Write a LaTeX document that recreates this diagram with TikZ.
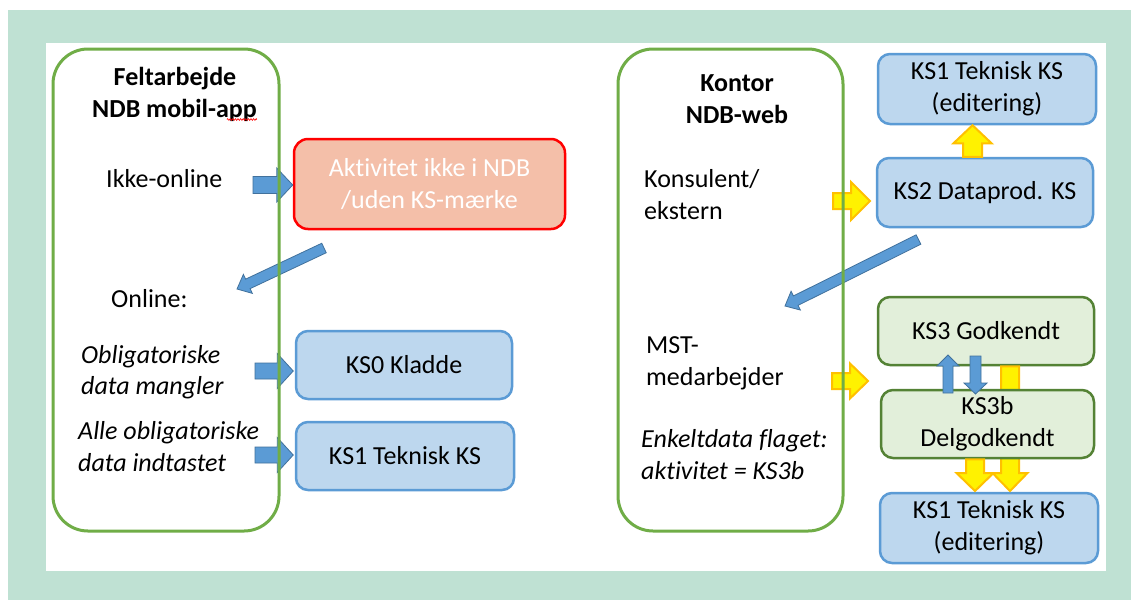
\documentclass[tikz,border=0pt]{standalone}
\usepackage{fontspec}
\setmainfont[Ligatures={NoCommon}]{Carlito}
\usetikzlibrary{calc,decorations.pathmorphing}
\definecolor{mint}{HTML}{BFE1D3}
\definecolor{frgreen}{HTML}{70AD47}
\definecolor{fillblue}{HTML}{BDD7EE}
\definecolor{lineblue}{HTML}{5B9BD5}
\definecolor{arrblue}{HTML}{5B9BD5}
\definecolor{arrblueline}{HTML}{41719C}
\definecolor{dkgreen}{HTML}{548235}
\definecolor{fillgreen}{HTML}{E2EFDA}
\definecolor{salmon}{HTML}{F4BFA9}
\definecolor{yelline}{HTML}{FFC000}
\newcommand\fsz{\fontsize{26}{31.7}\selectfont}
% #1 style, #2 start, #3 tip, #4 shaft half width, #5 head half width, #6 head length
\newcommand\blockarr[6]{%
  \coordinate (bah) at ($(#3)!#6!(#2)$);
  \draw[#1] ($(#2)!#4!90:(#3)$) -- ($(bah)!#4!90:(#3)$) -- ($(bah)!#5!90:(#3)$) -- (#3)
    -- ($(bah)!#5!-90:(#3)$) -- ($(bah)!#4!-90:(#3)$) -- ($(#2)!#4!-90:(#3)$) -- cycle;}
\begin{document}
\begin{tikzpicture}[x=1pt,y=-1pt,
  every node/.style={font=\fsz, inner sep=0pt},
  lane/.style={draw=frgreen, line width=3pt, rounded corners=35pt},
  bluebox/.style={draw=lineblue, fill=fillblue, line width=2.5pt, rounded corners=12pt, align=center},
  greenbox/.style={draw=dkgreen, fill=fillgreen, line width=2.5pt, rounded corners=12pt, align=center},
  redbox/.style={draw=red, fill=salmon, line width=2.5pt, rounded corners=14pt, align=center, text=white},
  lbl/.style={anchor=base west},
  ilbl/.style={anchor=base west, font=\fsz\itshape},
  ttl/.style={anchor=base, font=\fsz\bfseries},
  bluearr/.style={fill=arrblue, draw=arrblueline, line width=0.8pt},
  yelarr/.style={fill=yellow, draw=yelline, line width=2pt},
]
\useasboundingbox (0,0) rectangle (1131,600);
\fill[white] (0,0) rectangle (1131,600);
\fill[mint] (8,10) rectangle (1131,600);
\fill[white] (46,43) rectangle (1106,571);

% boxes
\node[redbox, minimum width=271pt, minimum height=90pt] (red) at (429.5,184) {Aktivitet ikke i NDB\\/uden KS-mærke};
\node[bluebox, minimum width=216pt, minimum height=68pt] (ks0) at (404,365) {KS0 Kladde};
\node[bluebox, minimum width=218pt, minimum height=68pt] (ks1) at (405,456) {KS1 Teknisk KS};
\node[bluebox, minimum width=218pt, minimum height=70pt] (ks1a) at (987,89) {KS1 Teknisk KS\\(editering)};
\node[bluebox, minimum width=216pt, minimum height=69pt] (ks2) at (985,192.5) {KS2 Dataprod. KS};
\node[greenbox, minimum width=216pt, minimum height=68pt] (ks3) at (986,331) {KS3 Godkendt};
\node[bluebox, minimum width=218pt, minimum height=70pt] (ks1b) at (989,528) {KS1 Teknisk KS\\(editering)};

% long yellow arrow behind KS3b
\coordinate (ylx) at (1010,0);
\coordinate (yls) at (ks3.south -| ylx);
\coordinate (yle) at (1010,491);
\blockarr{yelarr}{yls}{yle}{9pt}{17.5pt}{18pt}

\node[greenbox, minimum width=213pt, minimum height=68pt] (ks3b) at (987.5,424) {KS3b\\Delgodkendt};

% left arrows
\coordinate (a1s) at (253,185);
\coordinate (a1e) at (red.west |- a1s);
\blockarr{bluearr}{a1s}{a1e}{8.5pt}{17pt}{16pt}
\coordinate (a2s) at (255,371);
\coordinate (a2e) at ($(ks0.west |- a2s)+(-1.5,0)$);
\blockarr{bluearr}{a2s}{a2e}{8pt}{17.5pt}{16pt}
\coordinate (a3s) at (255,455);
\coordinate (a3e) at ($(ks1.west |- a3s)+(-1.5,0)$);
\blockarr{bluearr}{a3s}{a3e}{8pt}{17.5pt}{16pt}
\coordinate (d1s) at (324,248);
\coordinate (d1e) at (237,289);
\blockarr{bluearr}{d1s}{d1e}{5.25pt}{10.5pt}{12pt}

% right arrows
\coordinate (y1s) at (833,201);
\coordinate (y1e) at (870,201);
\blockarr{yelarr}{y1s}{y1e}{8pt}{19pt}{19pt}
\coordinate (y2s) at (832,381);
\coordinate (y2e) at (868,381);
\blockarr{yelarr}{y2s}{y2e}{8pt}{17.5pt}{18pt}
\coordinate (y3x) at (972.5,0);
\coordinate (y3s) at (ks2.north -| y3x);
\coordinate (y3e) at (ks1a.south -| y3x);
\blockarr{yelarr}{y3s}{y3e}{9.5pt}{19pt}{18pt}
\coordinate (d2s) at (918.5,239.5);
\coordinate (d2e) at (785,306);
\blockarr{bluearr}{d2s}{d2e}{5.25pt}{10.5pt}{12pt}
\coordinate (b1s) at (948,393);
\coordinate (b1e) at (948,355);
\blockarr{bluearr}{b1s}{b1e}{5pt}{11pt}{11pt}
\coordinate (b2s) at (975.5,356);
\coordinate (b2e) at (975.5,394);
\blockarr{bluearr}{b2s}{b2e}{5.5pt}{11.5pt}{11pt}
\coordinate (ysx) at (975,0);
\coordinate (yss) at (ks3b.south -| ysx);
\coordinate (yse) at (975,491);
\blockarr{yelarr}{yss}{yse}{9pt}{18.5pt}{18pt}

% lanes
\node[lane, minimum width=226pt, minimum height=482pt] (lanel) at (166,290) {};
\node[lane, minimum width=225pt, minimum height=482pt] (laner) at (730.5,290) {};

% texts
\node[ttl] (t1) at (175,85) {Feltarbejde};
\node[ttl] (t2) at (174.5,117) {NDB mobil-app};
\draw[red, line width=0.6pt, decorate, decoration={zigzag, amplitude=0.9pt, segment length=2.6pt}]
  ($(t2.base east)+(-30,2.5)$) -- ($(t2.base east)+(0,2.5)$);
\node[lbl] (ikke) at (106,187) {Ikke-online};
\node[lbl] (online) at (111,307) {Online:};
\node[ilbl] (ob1) at (81,363) {Obligatoriske};
\node[ilbl] (ob2) at (81,394) {data mangler};
\node[ilbl] (al1) at (78,439) {Alle obligatoriske};
\node[ilbl] (al2) at (78,471) {data indtastet};

\node[ttl] (k1) at (737,91) {Kontor};
\node[ttl] (k2) at (737,123) {NDB-web};
\node[lbl] (ko1) at (644,187) {Konsulent/};
\node[lbl] (ko2) at (644,219) {ekstern};
\node[lbl] (ms1) at (646,353) {MST-};
\node[lbl] (ms2) at (646,385) {medarbejder};
\node[ilbl] (en1) at (641,447) {Enkeltdata flaget:};
\node[ilbl] (en2) at (641,479) {aktivitet = KS3b};
\end{tikzpicture}
\end{document}
